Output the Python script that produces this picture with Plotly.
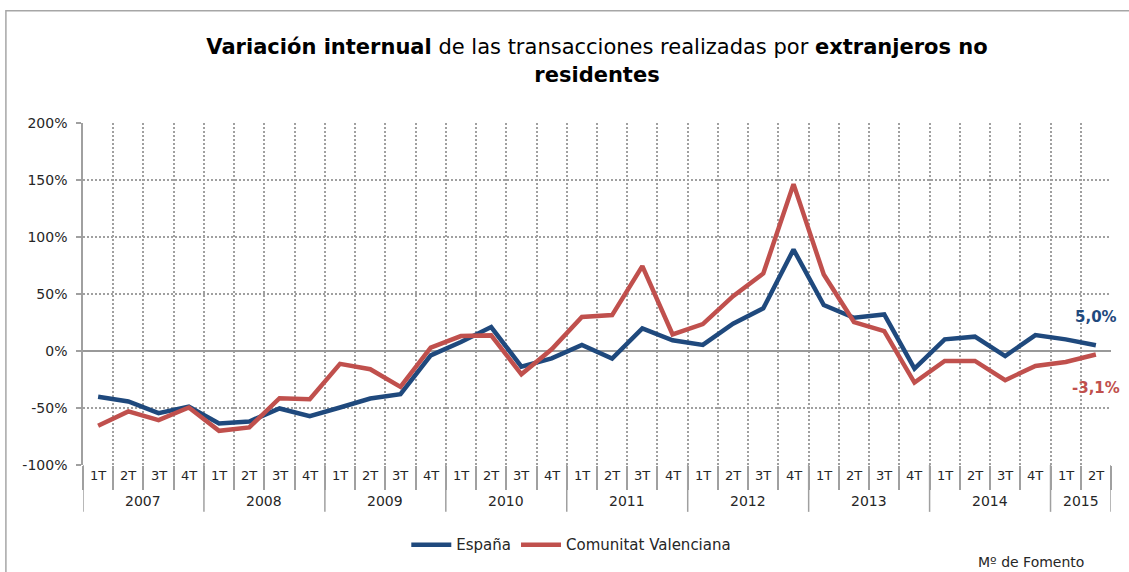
import plotly.graph_objects as go

years = ["2007", "2008", "2009", "2010", "2011", "2012", "2013", "2014", "2015"]
quarters_per_year = [4, 4, 4, 4, 4, 4, 4, 4, 2]
quarter_names = ["1T", "2T", "3T", "4T"]

espana = [-40.2, -44.3, -54.5, -48.7,
          -63.6, -61.8, -50.4, -57.1,
          -49.6, -41.7, -37.9, -3.8,
          7.9, 21.0, -13.7, -6.4,
          5.3, -6.7, 19.9, 9.4,
          5.3, 24.0, 37.4, 89.0,
          40.3, 29.2, 32.1, -15.4,
          10.2, 12.6, -4.4, 14.0,
          10.2, 5.0]
valenciana = [-65.6, -53.0, -60.6, -49.6,
              -70.0, -67.0, -41.4, -42.3,
              -11.3, -16.0, -31.5, 3.0,
              13.1, 13.7, -20.4, 1.5,
              29.8, 31.5, 74.4, 14.6,
              23.6, 48.1, 68.0, 146.4,
              67.1, 25.4, 17.5, -27.7,
              -8.7, -8.7, -25.6, -13.1,
              -9.6, -3.1]

y_ticks = [-100, -50, 0, 50, 100, 150, 200]
y_tick_text = ["-100%", "-50%", "0%", "50%", "100%", "150%", "200%"]

BLUE = "#1F497D"
RED = "#C0504D"
GRID = "#A0A0A0"
TXT = "#262626"
FONT = "DejaVu Sans"

labels_q = []
for y, k in zip(years, quarters_per_year):
    labels_q += quarter_names[:k]
xs = list(range(len(labels_q)))
n = len(xs)

fig = go.Figure()
fig.add_trace(go.Scatter(x=xs, y=espana, mode="lines", name="España",
                         line=dict(color=BLUE, width=4.5)))
fig.add_trace(go.Scatter(x=xs, y=valenciana, mode="lines", name="Comunitat Valenciana",
                         line=dict(color=RED, width=4.5)))

boundaries = [i - 0.5 for i in range(n + 1)]

annotations = []
for i, q in zip(xs, labels_q):
    annotations.append(dict(x=i, y=-0.032, xref="x", yref="paper", text=q,
                            showarrow=False, font=dict(size=13, color=TXT, family=FONT),
                            yanchor="middle"))
shapes = []
start = 0
year_bounds = [-0.5]
for y, k in zip(years, quarters_per_year):
    center = start + (k - 1) / 2
    annotations.append(dict(x=center, y=-0.105, xref="x", yref="paper", text=y,
                            showarrow=False, font=dict(size=14, color=TXT, family=FONT),
                            yanchor="middle"))
    start += k
    year_bounds.append(start - 0.5)
for b in year_bounds:
    shapes.append(dict(type="line", xref="x", yref="paper", x0=b, x1=b, y0=0, y1=-0.137,
                       line=dict(color=GRID, width=1.5)))

fmt = lambda v: f"{v:.1f}".replace(".", ",") + "%"
annotations.append(dict(x=xs[-1], y=espana[-1], xref="x", yref="y", text="<b>" + fmt(espana[-1]) + "</b>",
                        showarrow=False, yshift=28, font=dict(size=15, color=BLUE, family=FONT)))
annotations.append(dict(x=xs[-1], y=valenciana[-1], xref="x", yref="y", text="<b>" + fmt(valenciana[-1]) + "</b>",
                        showarrow=False, yshift=-33, font=dict(size=15, color=RED, family=FONT)))
annotations.append(dict(x=0.9757, y=-0.283, xref="paper", yref="paper", text="Mº de Fomento",
                        showarrow=False, xanchor="right", yanchor="middle",
                        font=dict(size=14, color=TXT, family=FONT)))

shapes.append(dict(type="rect", xref="paper", yref="paper", x0=-0.0750, x1=1.2, y0=-0.5, y1=1.328,
                   line=dict(color="#A6A6A6", width=1.5), layer="below"))

fig.update_layout(
    width=1129, height=572,
    margin=dict(l=83, r=18, t=123, b=106),
    paper_bgcolor="white", plot_bgcolor="white",
    font=dict(family=FONT, color=TXT, size=14),
    title=dict(text="<b>Variación internual</b> de las transacciones realizadas por <b>extranjeros no</b><br><b>residentes</b>",
               x=0.5, xref="paper", xanchor="center", y=0.905, yref="container", yanchor="top",
               font=dict(size=21, color="#000000", family=FONT)),
    showlegend=True,
    legend=dict(orientation="h", x=0.475, xanchor="center", y=-0.23, yanchor="middle",
                font=dict(size=15, color=TXT, family=FONT), bgcolor="rgba(0,0,0,0)",
                itemwidth=40),
    annotations=annotations, shapes=shapes,
)
fig.update_xaxes(range=[-0.5, n - 0.5], tickvals=boundaries, showticklabels=False,
                 ticks="outside", ticklen=24, tickcolor=GRID, tickwidth=1.5,
                 showgrid=True, gridcolor=GRID, griddash="2px,2px", gridwidth=1.5,
                 zeroline=False, showline=False)
fig.update_yaxes(range=[-100, 200], tickvals=y_ticks, ticktext=y_tick_text,
                 ticks="outside", ticklen=5, tickcolor=GRID, tickwidth=1.5,
                 ticklabelstandoff=6,
                 showgrid=True, gridcolor=GRID, griddash="2px,2px", gridwidth=1.5,
                 zeroline=True, zerolinecolor="#999999", zerolinewidth=2,
                 showline=True, linecolor=GRID, linewidth=1.5,
                 tickfont=dict(size=14, color=TXT, family=FONT))

fig.write_html("out.html", config={"displayModeBar": False},
               post_script="document.body.style.margin='0px';document.body.style.padding='0px';")
